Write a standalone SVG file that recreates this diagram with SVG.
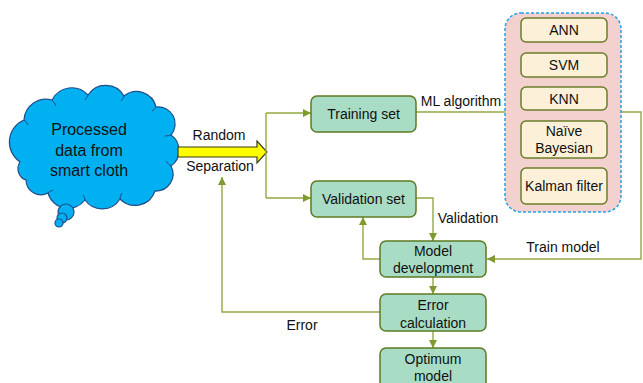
<svg xmlns="http://www.w3.org/2000/svg" width="643" height="383" viewBox="0 0 643 383">
<style>
text{font-family:"Liberation Sans",Arial,sans-serif;font-size:14px;fill:#111;text-anchor:middle}
.box{fill:#a8dcc4;stroke:#5f7a22;stroke-width:1.5}
.alg{fill:#fcf1d8;stroke:#6b7d2a;stroke-width:1.5}
.ln{fill:none;stroke:#92a944;stroke-width:1.4}
.cl{fill:#00b0f0;stroke:#1f4e8a;stroke-width:1.2}
</style>
<defs>
<marker id="ah" markerUnits="userSpaceOnUse" markerWidth="8" markerHeight="8" refX="8" refY="4" orient="auto">
<path d="M0,0 L8,4 L0,8 z" fill="#7f9a2e"/>
</marker>
</defs>

<g id="cloud">
<path class="cl" d="M20,162 A24,24 0 0 1 24,120 A22,22 0 0 1 52,100 A22,22 0 0 1 88,95 A21,21 0 0 1 124,96 A20,20 0 0 1 156,107 A17,17 0 0 1 171,135 A19,19 0 0 1 171,166 A17,17 0 0 1 155,191 A21,21 0 0 1 120,199 A21,21 0 0 1 85,200 A21,21 0 0 1 48,193 A15,15 0 0 1 26,180 A12,12 0 0 1 20,162 Z"/>
<path fill="none" stroke="#1f4e8a" stroke-width="1" d="M24,120 q3,2 4,5 M52,100 q3,3 4,6 M88,95 q-1,3 -3,5 M124,96 q-1,3 -3,5 M156,107 q-2,3 -4,4 M171,135 q-3,1 -6,1 M171,166 q-3,-2 -5,-5 M120,199 q0,-3 2,-6 M85,200 q0,-3 -2,-5 M48,193 q2,-2 5,-3"/>
<circle class="cl" cx="66" cy="212" r="8"/>
<circle class="cl" cx="62" cy="218" r="5"/>
<circle class="cl" cx="59" cy="223" r="4"/>
<text x="89" y="135" style="font-size:16px">Processed</text>
<text x="89" y="156" style="font-size:16px">data from</text>
<text x="89" y="176" style="font-size:16px">smart cloth</text>
</g>

<g id="random-separation">
<polygon points="178,147 257,147 257,141 267,152 257,163 257,157 178,157" fill="#ffff00" stroke="#3a3a1a" stroke-width="1.2"/>
<text x="219" y="140">Random</text>
<text x="220" y="171">Separation</text>
</g>

<g id="connectors">
<path class="ln" d="M266,113 V198"/>
<path class="ln" d="M266,113 H311" marker-end="url(#ah)"/>
<path class="ln" d="M266,198 H311" marker-end="url(#ah)"/>
<path class="ln" d="M416,112 H505"/>
<path class="ln" d="M621,112 H641 V259 H487" marker-end="url(#ah)"/>
<path class="ln" d="M416,198 H433 V241" marker-end="url(#ah)"/>
<path class="ln" d="M380,259 H363 V217" marker-end="url(#ah)"/>
<path class="ln" d="M433,277 V294" marker-end="url(#ah)"/>
<path class="ln" d="M433,331 V348" marker-end="url(#ah)"/>
<path class="ln" d="M380,312 H222 V177" marker-end="url(#ah)"/>
<text x="461" y="106">ML algorithm</text>
<text x="468" y="223">Validation</text>
<text x="563" y="252">Train model</text>
<text x="302" y="330">Error</text>
</g>

<g id="training-set">
<rect class="box" x="311" y="96" width="105" height="36" rx="6"/>
<text x="363.5" y="119">Training set</text>
</g>
<g id="validation-set">
<rect class="box" x="311" y="181" width="105" height="36" rx="6"/>
<text x="363.5" y="204">Validation set</text>
</g>

<g id="ml-algorithms">
<rect x="505" y="13" width="116" height="199" rx="16" fill="#f2d1cf" stroke="#1fa3e8" stroke-width="1.5" stroke-dasharray="3,2"/>
<g id="ann"><rect class="alg" x="521" y="18" width="86" height="24" rx="5"/><text x="564" y="35">ANN</text></g>
<g id="svm"><rect class="alg" x="521" y="53" width="86" height="24" rx="5"/><text x="564" y="70">SVM</text></g>
<g id="knn"><rect class="alg" x="521" y="87" width="86" height="23" rx="5"/><text x="564" y="104">KNN</text></g>
<g id="naive-bayesian"><rect class="alg" x="521" y="121" width="86" height="37" rx="5"/><text x="564" y="136">Naïve</text><text x="564" y="153">Bayesian</text></g>
<g id="kalman"><rect class="alg" x="521" y="168" width="86" height="36" rx="5"/><text x="564" y="191">Kalman filter</text></g>
</g>

<g id="model-development">
<rect class="box" x="380" y="241" width="106" height="36" rx="6"/>
<text x="433" y="256">Model</text>
<text x="433" y="273">development</text>
</g>
<g id="error-calculation">
<rect class="box" x="380" y="294" width="106" height="37" rx="6"/>
<text x="433" y="310">Error</text>
<text x="433" y="328">calculation</text>
</g>
<g id="optimum-model">
<rect class="box" x="380" y="348" width="106" height="42" rx="6"/>
<text x="433" y="364">Optimum</text>
<text x="433" y="381">model</text>
</g>
</svg>
